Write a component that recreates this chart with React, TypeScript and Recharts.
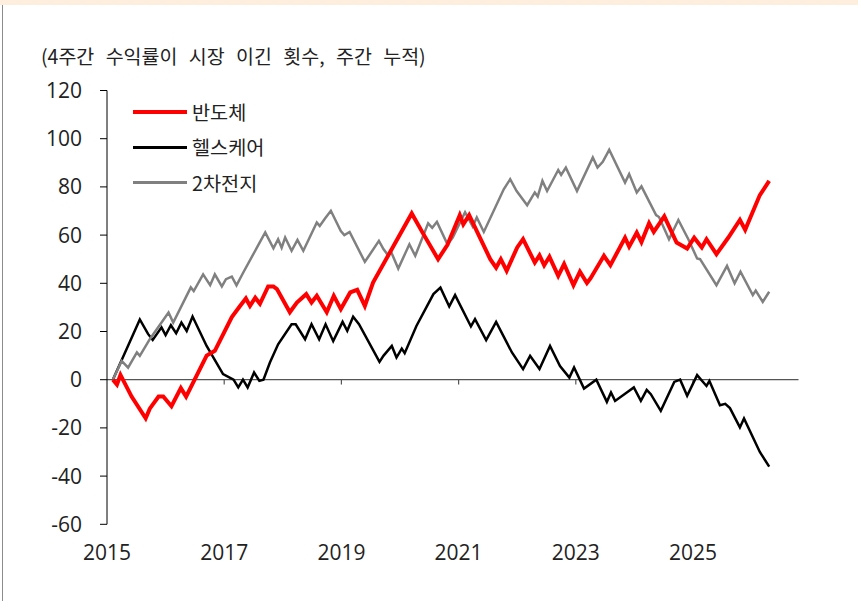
import React from 'react';
import {
  LineChart,
  Line,
  XAxis,
  YAxis,
  ReferenceLine,
} from 'recharts';

const FONT = '"Noto Sans CJK KR", "Noto Sans", sans-serif';
const NUM_FONT = '"Open Sans", "Noto Sans", sans-serif';

const TITLE = '(4주간 수익률이 시장 이긴 횟수, 주간 누적)';
const X_TICKS = [2015, 2017, 2019, 2021, 2023, 2025];
const Y_TICKS = [-60, -40, -20, 0, 20, 40, 60, 80, 100, 120];

// [year, cumulative count]
const SEMI: [number, number][] = [
  [2015.1, 0], [2015.17, -2], [2015.23, 2], [2015.42, -7], [2015.66, -16],
  [2015.73, -12], [2015.88, -7], [2015.96, -7], [2016.1, -11], [2016.26, -3.5],
  [2016.35, -7], [2016.7, 10], [2016.84, 12], [2017.13, 26], [2017.27, 30.6],
  [2017.37, 33.7], [2017.44, 30.6], [2017.53, 34], [2017.61, 31.5], [2017.75, 38.7],
  [2017.84, 38.7], [2017.9, 37.6], [2018.12, 28], [2018.24, 32], [2018.4, 35.5],
  [2018.49, 32], [2018.58, 34.8], [2018.75, 28], [2018.87, 34.8], [2018.99, 29.3],
  [2019.15, 36.2], [2019.27, 37.3], [2019.4, 30.6], [2019.54, 40.3], [2020.2, 69],
  [2020.4, 60.4], [2020.65, 50], [2020.81, 56], [2021.02, 68.3], [2021.08, 64.5],
  [2021.18, 68.3], [2021.54, 50], [2021.64, 46.5], [2021.72, 50], [2021.82, 45.2],
  [2022.0, 54.9], [2022.1, 58.3], [2022.3, 48.6], [2022.38, 51.6], [2022.46, 47.5],
  [2022.55, 51], [2022.7, 43.1], [2022.8, 48], [2022.96, 39.2], [2023.07, 44.8],
  [2023.19, 40.1], [2023.25, 42], [2023.48, 51.4], [2023.59, 47.5], [2023.84, 58.9],
  [2023.91, 55.2], [2024.04, 61], [2024.12, 57.1], [2024.25, 64.9], [2024.33, 61.3],
  [2024.51, 67.8], [2024.72, 56.9], [2024.9, 54.4], [2025.02, 58.9], [2025.15, 54.9],
  [2025.23, 58.3], [2025.4, 52.1], [2025.6, 58.9], [2025.8, 66.3], [2025.89, 62.2],
  [2026.14, 76.6], [2026.3, 82.5],
];

const HEALTH: [number, number][] = [
  [2015.1, 0], [2015.56, 25], [2015.7, 19], [2015.78, 16.5], [2015.93, 21.7],
  [2016.0, 18.5], [2016.09, 22.6], [2016.18, 19.3], [2016.27, 23.7], [2016.36, 20.2],
  [2016.46, 26.2], [2016.7, 14], [2016.98, 2.3], [2017.16, 0], [2017.24, -3.2],
  [2017.32, 0], [2017.4, -3.2], [2017.51, 3], [2017.6, -0.5], [2017.67, 0],
  [2017.78, 7.1], [2017.92, 14.7], [2018.15, 23], [2018.22, 23], [2018.38, 16.8],
  [2018.49, 23], [2018.62, 16.8], [2018.73, 23], [2018.86, 16], [2019.02, 24],
  [2019.1, 20.3], [2019.2, 26.1], [2019.3, 23], [2019.65, 7.4], [2019.72, 10],
  [2019.86, 14], [2019.94, 9.2], [2020.03, 12.9], [2020.08, 11], [2020.28, 22.3],
  [2020.57, 35.5], [2020.69, 38.2], [2020.84, 30.4], [2020.94, 35.1], [2021.21, 22.1],
  [2021.28, 25.1], [2021.47, 16.4], [2021.64, 24], [2021.91, 11.3], [2022.1, 4.4],
  [2022.22, 9.9], [2022.38, 4.4], [2022.56, 14], [2022.73, 5.7], [2022.89, 0.9],
  [2022.97, 5.1], [2023.14, -3.7], [2023.35, 0], [2023.53, -9.2], [2023.6, -5.3],
  [2023.67, -8.8], [2023.87, -5.3], [2023.99, -3.2], [2024.11, -8.8], [2024.21, -4.2],
  [2024.28, -6], [2024.45, -12.9], [2024.68, -0.9], [2024.78, 0], [2024.9, -6.7],
  [2025.07, 1.9], [2025.23, -2.6], [2025.28, -0.5], [2025.46, -10.6], [2025.55, -10],
  [2025.63, -11.8], [2025.8, -19.8], [2025.87, -16.1], [2026.14, -30], [2026.3, -36.1],
];

const BATTERY: [number, number][] = [
  [2015.1, 0], [2015.25, 7.8], [2015.36, 5], [2015.51, 11.3], [2015.56, 9.9],
  [2015.73, 16.8], [2016.05, 27.9], [2016.13, 23.7], [2016.43, 38.3], [2016.48, 36.8],
  [2016.64, 43.7], [2016.76, 39.2], [2016.84, 43.7], [2016.96, 38.7], [2017.03, 41.7],
  [2017.13, 42.8], [2017.21, 39.2], [2017.33, 44.7], [2017.7, 61.1], [2017.84, 54.5],
  [2017.92, 58.3], [2017.98, 54.8], [2018.04, 59], [2018.15, 53.5], [2018.25, 58],
  [2018.35, 53.5], [2018.58, 65.2], [2018.63, 63.8], [2018.72, 66.9], [2018.82, 70.1],
  [2018.99, 61.7], [2019.05, 60], [2019.14, 61.3], [2019.4, 48.9], [2019.45, 50.7],
  [2019.64, 57.6], [2019.72, 54.1], [2019.8, 51.5], [2019.84, 53.5], [2019.97, 46.1],
  [2020.16, 56.2], [2020.26, 51.4], [2020.48, 64.9], [2020.55, 63], [2020.63, 65.5],
  [2020.81, 56.2], [2020.9, 59], [2021.11, 69.5], [2021.24, 63.6], [2021.31, 67.3],
  [2021.43, 61.3], [2021.77, 79], [2021.88, 83.2], [2021.99, 78.3], [2022.17, 72.4],
  [2022.3, 77.7], [2022.35, 76], [2022.43, 82.5], [2022.51, 78.3], [2022.7, 87],
  [2022.75, 85], [2022.83, 88], [2023.02, 78.3], [2023.29, 92.2], [2023.37, 88],
  [2023.46, 90.4], [2023.57, 95.4], [2023.84, 81.8], [2023.91, 85.3], [2024.04, 77.7],
  [2024.12, 80.2], [2024.37, 68.3], [2024.42, 67.5], [2024.59, 58.3], [2024.75, 66.3],
  [2024.92, 58.3], [2025.07, 50.3], [2025.12, 50], [2025.4, 39.2], [2025.58, 47.2],
  [2025.71, 40], [2025.81, 44.8], [2026.02, 35.1], [2026.07, 37], [2026.19, 32.3],
  [2026.3, 36.5],
];

const SERIES = [
  { name: '반도체', color: '#ff0000', width: 4, points: SEMI },
  { name: '헬스케어', color: '#000000', width: 2.5, points: HEALTH },
  { name: '2차전지', color: '#808080', width: 2.5, points: BATTERY },
];

const toRows = (pts: [number, number][]) => pts.map(([t, v]) => ({ t, v }));

function LegendBox() {
  return (
    <div
      style={{
        position: 'absolute',
        left: 133,
        top: 94,
        fontFamily: FONT,
        fontSize: 19.7,
        color: '#222',
      }}
    >
      {SERIES.map((s) => (
        <div key={s.name} style={{ display: 'flex', alignItems: 'center', height: 35.5 }}>
          <span
            style={{
              display: 'inline-block',
              width: 54,
              height: s.width === 4 ? 4 : 3,
              background: s.color,
            }}
          />
          <span style={{ marginLeft: 5, lineHeight: 1 }}>{s.name}</span>
        </div>
      ))}
    </div>
  );
}

export default function App() {
  const tickStyle = { fontSize: 21, fill: '#222', fontFamily: NUM_FONT };
  return (
    <div
      style={{
        position: 'fixed',
        left: 0,
        top: 0,
        width: 858,
        height: 601,
        background: '#ffffff',
        overflow: 'hidden',
      }}
    >
      {/* frame bits */}
      <div style={{ position: 'absolute', left: 0, top: 0, width: 858, height: 5, background: '#fdeede' }} />
      <div style={{ position: 'absolute', left: 2, top: 5, width: 1, height: 596, background: '#8c8c8c' }} />
      <div
        style={{
          position: 'absolute',
          left: 41,
          top: 42,
          fontFamily: FONT,
          fontSize: 19.5,
          wordSpacing: 7,
          color: '#222',
          whiteSpace: 'nowrap',
          lineHeight: '28px',
        }}
      >
        {TITLE}
      </div>

      <LineChart
        width={858}
        height={601}
        margin={{ top: 90.5, right: 59.5, left: 47, bottom: 46.7 }}
        style={{ position: 'absolute', left: 0, top: 0 }}
      >
        <XAxis
          type="number"
          dataKey="t"
          domain={[2015, 2026.8]}
          ticks={X_TICKS}
          allowDataOverflow
          axisLine={false}
          tickLine={false}
          tickSize={0}
          tickMargin={21}
          height={30}
          tick={tickStyle}
        />
        <YAxis
          type="number"
          domain={[-60, 120]}
          ticks={Y_TICKS}
          width={60}
          axisLine={{ stroke: '#000', strokeWidth: 1 }}
          tickLine={{ stroke: '#000', strokeWidth: 1 }}
          tickSize={7}
          tickMargin={18}
          tick={tickStyle}
        />
        <ReferenceLine y={0} stroke="#555" strokeWidth={1.2} />
        {X_TICKS.slice(1).map((yr) => (
          <ReferenceLine
            key={yr}
            segment={[{ x: yr, y: 0 }, { x: yr, y: -2 }]}
            stroke="#555"
            strokeWidth={1.2}
          />
        ))}
        {[SERIES[1], SERIES[2], SERIES[0]].map((s) => (
          <Line
            key={s.name}
            name={s.name}
            data={toRows(s.points)}
            dataKey="v"
            type="linear"
            stroke={s.color}
            strokeWidth={s.width}
            dot={false}
            activeDot={false}
            isAnimationActive={false}
          />
        ))}
      </LineChart>
      <LegendBox />
    </div>
  );
}
